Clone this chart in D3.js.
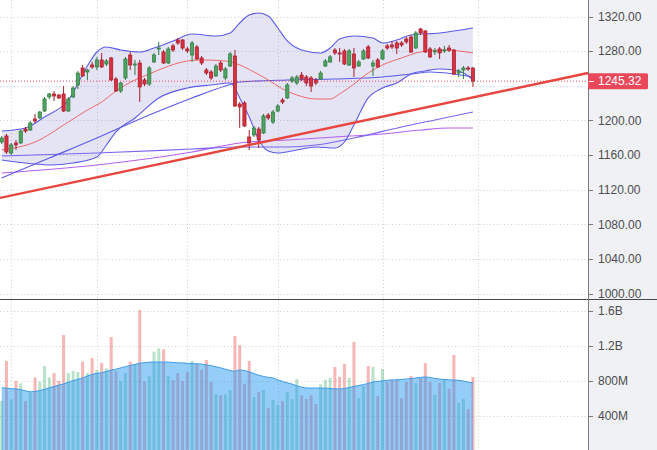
<!DOCTYPE html>
<html><head><meta charset="utf-8">
<script src="https://cdn.jsdelivr.net/npm/d3@7/dist/d3.min.js"></script>
<style>html,body{margin:0;padding:0;background:#fff;}svg{display:block;font-family:"Liberation Sans",Arial,sans-serif;}</style>
</head><body><svg id="chart" width="657" height="450"></svg>
<script>
// ---------- DATA ----------
const openP = [1175.0,1182.0,1162.3,1173.9,1173.9,1190.0,1188.9,1201.6,1202.8,1210.8,
1227.0,1230.5,1229.3,1230.5,1210.8,1227.0,1240.9,1260.5,1255.9,1264.0,
1261.7,1269.8,1265.1,1272.1,1247.8,1233.9,1249.0,1275.5,1264.0,1266.3,
1246.7,1242.0,1267.5,1282.5,1279.0,1266.3,1286.0,1292.9,1292.9,1282.5,
1275.5,1284.8,1272.1,1258.2,1255.9,1251.3,1266.3,1249.0,1262.8,1274.4,
1218.9,1220.1,1180.8,1183.1,1190.0,1185.4,1206.2,1198.1,1210.8,1223.5,
1225.9,1245.5,1243.2,1252.4,1250.1,1249.0,1246.7,1247.8,1262.8,1267.5,
1281.3,1277.9,1280.2,1264.0,1276.7,1262.8,1270.9,1284.8,1262.8,1269.8,
1270.9,1286.0,1287.1,1289.4,1289.4,1294.0,1296.3,1283.6,1305.6,1303.3,
1282.5,1279.0,1282.5,1280.2,1283.6,1281.3,1254.7,1258.2,1260.5,1260.5];
const highP = [1182.0,1184.3,1173.9,1177.3,1188.9,1192.4,1199.3,1207.4,1210.8,1227.0,
1231.7,1233.9,1230.5,1239.7,1227.0,1239.7,1257.1,1264.0,1259.4,1267.5,
1273.3,1277.9,1270.9,1273.3,1250.1,1244.3,1273.3,1279.0,1269.8,1269.8,
1249.0,1262.8,1277.9,1290.6,1281.3,1284.8,1288.3,1295.2,1294.0,1284.8,
1291.7,1287.1,1274.4,1260.5,1258.2,1265.1,1268.6,1261.7,1279.0,1281.3,
1221.2,1222.4,1188.9,1193.5,1192.4,1207.4,1208.5,1212.0,1218.9,1225.9,
1243.2,1251.3,1252.4,1255.9,1252.4,1251.3,1249.0,1257.1,1270.9,1275.5,
1283.6,1283.6,1282.5,1282.5,1283.6,1269.8,1282.5,1287.1,1269.8,1272.1,
1282.5,1288.3,1291.7,1291.7,1291.7,1296.3,1298.7,1303.3,1306.7,1304.4,
1284.8,1283.6,1284.8,1286.0,1287.1,1282.5,1259.4,1262.8,1262.8,1261.7];
const lowP = [1172.7,1161.2,1160.0,1165.8,1172.7,1185.4,1187.7,1197.0,1201.6,1209.7,
1224.7,1222.4,1224.7,1209.7,1209.7,1225.9,1236.3,1250.1,1246.7,1259.4,
1258.2,1260.5,1262.8,1245.5,1232.8,1231.7,1246.7,1258.2,1252.4,1221.2,
1239.7,1239.7,1266.3,1275.5,1265.1,1265.1,1279.0,1287.1,1281.3,1277.9,
1267.5,1269.8,1264.0,1252.4,1246.7,1250.1,1255.9,1246.7,1261.7,1215.5,
1191.2,1192.4,1165.8,1180.8,1168.1,1184.3,1200.5,1195.8,1209.7,1218.9,
1224.7,1243.2,1240.9,1245.5,1239.7,1232.8,1240.9,1246.7,1261.7,1266.3,
1275.5,1267.5,1264.0,1262.8,1250.1,1261.7,1269.8,1270.9,1251.3,1260.5,
1269.8,1281.3,1282.5,1276.7,1284.8,1288.3,1277.9,1282.5,1298.7,1277.9,
1272.1,1275.5,1270.9,1277.9,1279.0,1252.4,1250.1,1247.8,1257.1,1238.6];
const closeP = [1179.6,1163.5,1171.6,1171.6,1187.7,1187.7,1197.0,1199.3,1209.7,1224.7,
1230.5,1228.2,1225.9,1210.8,1224.7,1237.4,1254.7,1251.3,1258.2,1261.7,
1269.8,1261.7,1268.6,1246.7,1233.9,1243.2,1270.9,1264.0,1265.1,1238.6,
1242.0,1260.5,1275.5,1283.6,1266.3,1282.5,1281.3,1289.4,1283.6,1280.2,
1289.4,1270.9,1266.3,1254.7,1249.0,1262.8,1258.2,1259.4,1276.7,1216.6,
1215.5,1193.5,1173.9,1191.2,1177.3,1205.1,1202.8,1209.7,1216.6,1221.2,
1240.9,1249.0,1250.1,1247.8,1243.2,1239.7,1243.2,1254.7,1268.6,1273.3,
1277.9,1276.7,1265.1,1280.2,1260.5,1267.5,1280.2,1272.1,1266.3,1261.7,
1280.2,1283.6,1284.8,1283.6,1287.1,1290.6,1279.0,1301.0,1301.0,1279.0,
1273.3,1280.2,1277.9,1281.3,1281.3,1253.6,1257.1,1260.5,1259.4,1245.32];
// volume in millions
const volume = [571,1029,590,800,773,571,667,842,792,971,
842,891,800,1326,891,914,903,1021,891,1063,
926,1006,945,1303,914,800,891,1021,994,1611,
792,857,1135,1173,1162,857,811,891,800,903,
1029,994,926,1040,789,648,636,648,697,1314,
1211,766,1029,617,674,697,491,583,526,571,
674,594,823,636,594,636,537,762,811,834,
960,846,994,834,1246,606,743,971,960,629,
937,789,811,811,606,789,857,777,834,1006,
789,640,777,823,712,1097,549,594,480,846];
const volumeMA = [723,718,712,709,700,688,676,680,690,705,
722,738,752,768,785,805,820,834,858,875,
888,895,910,925,935,950,965,978,990,1004,
1010,1015,1017,1017,1017,1015,1012,1008,1006,1003,
999,996,993,985,975,963,950,935,920,912,
926,920,905,885,865,852,842,834,815,795,
780,765,745,730,720,720,720,720,718,714,
710,709,715,725,738,748,760,772,789,795,
802,809,812,815,818,822,828,835,842,846,
840,830,823,818,814,811,808,800,788,777];
// indicator readings: [bar index, price]
const bbUpper = [[0,1187.7],[5,1191.2],[9,1203.9],[14,1223.5],[18,1262.8],[20,1279.0],[22,1284.8],[25,1281.3],[29,1279.0],[32,1283.6],[36,1291.7],[40,1299.8],[45,1297.5],[48,1301.0],[50,1312.5],[52,1321.7],[54,1324.1],[56,1320.6],[58,1306.7],[60,1291.7],[63,1281.3],[67,1277.9],[69,1283.6],[71,1294.0],[74,1297.5],[78,1295.2],[80,1289.4],[83,1292.9],[86,1298.7],[92,1301.0],[99,1306.7]];
const bbLower = [[0,1154.2],[7,1149.6],[10,1148.5],[15,1150.8],[20,1157.7],[22,1171.6],[24,1186.6],[28,1202.8],[33,1225.9],[39,1237.4],[44,1240.9],[48,1243.2],[50,1225.9],[52,1203.9],[54,1177.3],[56,1164.6],[58,1162.3],[62,1165.8],[66,1169.3],[70,1168.1],[72,1175.0],[74,1194.7],[77,1225.9],[80,1237.4],[83,1243.2],[86,1253.6],[89,1257.1],[92,1259.4],[95,1258.2],[97,1254.7],[99,1246.7]];
const bbBasis = [[0,1165.8],[7,1175.0],[14,1198.1],[18,1212.0],[21,1221.2],[24,1233.9],[28,1246.7],[31,1253.6],[34,1260.5],[38,1267.5],[42,1269.8],[47,1268.6],[50,1264.0],[53,1255.9],[56,1246.7],[59,1236.3],[62,1229.3],[66,1224.7],[69,1224.7],[71,1230.5],[74,1242.0],[77,1254.7],[80,1264.0],[84,1272.1],[88,1279.0],[93,1281.3],[99,1277.9]];
const ma50 = [[0,1133.4],[10,1156.5],[20,1179.6],[30,1203.9],[40,1225.9],[47,1239.7],[50,1244.3],[60,1246.7],[70,1247.8],[80,1250.1],[86,1253.6],[90,1255.9],[95,1253.6],[99,1250.1]];
const ma100 = [[0,1158.8],[20,1162.3],[40,1166.9],[50,1169.3],[60,1169.3],[66,1171.6],[74,1179.6],[84,1192.4],[92,1201.6],[99,1209.7]];
const ma200 = [[0,1139.2],[20,1148.5],[40,1163.5],[50,1173.9],[60,1177.3],[70,1180.8],[80,1184.3],[88,1188.9],[94,1191.2],[99,1191.2]];
const trendline = [[0,1110.8],[99,1226.5]];
const lastPrice = 1245.32;
const priceTicks = [1000,1040,1080,1120,1160,1200,1240,1280,1320];
const volumeTicks = [400,800,1200,1600];
const volumeTickLabels = ["400M","800M","1.2B","1.6B"];
const gridBars = [2,20,39,58,80,100];

// ---------- LAYOUT ----------
const W = 657, H = 450, plotR = 588, priceBottom = 298.5, volTop = 300;
const svg = d3.select("#chart");
const x = d3.scaleLinear().domain([0, 99]).range([1.7, 472.94]);
const y = d3.scaleLinear().domain([1000, 1320]).range([293.5, 16.5]);
const yv = d3.scaleLinear().domain([0, 1600]).range([451, 311]);

const defs = svg.append("defs");
defs.append("clipPath").attr("id","priceClip").append("rect").attr("x",0).attr("y",0).attr("width",plotR).attr("height",priceBottom);
defs.append("clipPath").attr("id","volClip").append("rect").attr("x",0).attr("y",volTop).attr("width",plotR).attr("height",H-volTop);
defs.append("clipPath").attr("id","aboveLower").append("path")
  .attr("d", d3.area().x(d=>x(d[0])).y0(-10).y1(d=>y(d[1])).curve(d3.curveMonotoneX)(bbLower));

svg.append("rect").attr("x",0).attr("y",0).attr("width",W).attr("height",H).attr("fill","#ffffff");
svg.append("rect").attr("x",plotR).attr("y",0).attr("width",W-plotR).attr("height",H).attr("fill","#f0f1f5");

const grid = svg.append("g").attr("stroke","#cfcfd4").attr("stroke-width",1).attr("stroke-dasharray","1,2.5");
gridBars.forEach(b=>{
  const gx = Math.round(x(b))+0.5;
  grid.append("line").attr("x1",gx).attr("x2",gx).attr("y1",0).attr("y2",priceBottom);
  grid.append("line").attr("x1",gx).attr("x2",gx).attr("y1",volTop).attr("y2",H);
});
priceTicks.forEach(t=>{
  const gy = Math.round(y(t))+0.5;
  grid.append("line").attr("x1",0).attr("x2",plotR).attr("y1",gy).attr("y2",gy);
});
volumeTicks.forEach(t=>{
  const gy = Math.round(yv(t))+0.5;
  grid.append("line").attr("x1",0).attr("x2",plotR).attr("y1",gy).attr("y2",gy);
});

// ---------- PRICE PANE ----------
const pp = svg.append("g").attr("clip-path","url(#priceClip)");
const lineGen = d3.line().x(d=>x(d[0])).y(d=>y(d[1])).curve(d3.curveMonotoneX);
pp.append("path")
  .attr("d", d3.area().x(d=>x(d[0])).y0(priceBottom+20).y1(d=>y(d[1])).curve(d3.curveMonotoneX)(bbUpper))
  .attr("clip-path","url(#aboveLower)")
  .attr("fill","rgba(120,120,200,0.2)");
pp.append("path").attr("d",lineGen(ma200)).attr("fill","none").attr("stroke","#b660ee").attr("stroke-width",1.1);
pp.append("path").attr("d",lineGen(ma100)).attr("fill","none").attr("stroke","#7a66f0").attr("stroke-width",1.1);
pp.append("path").attr("d",lineGen(ma50)).attr("fill","none").attr("stroke","#5a5ae8").attr("stroke-width",1.1);
pp.append("path").attr("d",lineGen(bbBasis)).attr("fill","none").attr("stroke","#ec6a6a").attr("stroke-width",1);
pp.append("path").attr("d",lineGen(bbUpper)).attr("fill","none").attr("stroke","#5c5ce8").attr("stroke-width",1.1);
pp.append("path").attr("d",lineGen(bbLower)).attr("fill","none").attr("stroke","#5c5ce8").attr("stroke-width",1.1);

// last price dotted line
const yLast = y(lastPrice);
pp.append("line").attr("x1",0).attr("x2",plotR).attr("y1",yLast).attr("y2",yLast)
  .attr("stroke","#e8485a").attr("stroke-width",1).attr("stroke-dasharray","1,2");

// candles
const candles = d3.range(openP.length).map(i=>({i,o:openP[i],h:highP[i],l:lowP[i],c:closeP[i]}));
const cg = pp.append("g");
const bw = 3.2;
candles.forEach(d=>{
  const up = d.c >= d.o;
  const fill = up ? "#4ea35f" : "#d9303f";
  const stroke = up ? "#2f7a41" : "#a51d2c";
  const cx = x(d.i);
  cg.append("line").attr("x1",cx).attr("x2",cx).attr("y1",y(d.h)).attr("y2",y(d.l)).attr("stroke",stroke).attr("stroke-width",1);
  const top = y(Math.max(d.o,d.c)), bot = y(Math.min(d.o,d.c));
  cg.append("rect").attr("x",cx-bw/2).attr("y",top).attr("width",bw).attr("height",Math.max(1,bot-top))
    .attr("fill",fill).attr("stroke",stroke).attr("stroke-width",0.7);
});

// trend line extended across the pane
const slope = (trendline[1][1]-trendline[0][1])/(trendline[1][0]-trendline[0][0]);
const iL = x.invert(0), iR = x.invert(plotR);
const tPts = [[iL, trendline[0][1]+slope*(iL-trendline[0][0])],[iR, trendline[0][1]+slope*(iR-trendline[0][0])]];
svg.append("path").attr("d", d3.line().x(d=>x(d[0])).y(d=>y(d[1]))(tPts))
  .attr("fill","none").attr("stroke","#e8453f").attr("stroke-width",2.4);

// ---------- VOLUME PANE ----------
const vp = svg.append("g").attr("clip-path","url(#volClip)");
candles.forEach(d=>{
  const up = d.c >= d.o;
  vp.append("rect").attr("x",x(d.i)-1.5).attr("y",yv(volume[d.i])).attr("width",3).attr("height",yv(0)-yv(volume[d.i]))
    .attr("fill", up ? "rgba(38,166,91,0.32)" : "rgba(239,83,80,0.42)");
});
const maPts = volumeMA.map((v,i)=>[i,v]);
vp.append("path").attr("d", d3.area().x(d=>x(d[0])).y0(yv(0)).y1(d=>yv(d[1])).curve(d3.curveMonotoneX)(maPts))
  .attr("fill","rgba(33,150,243,0.48)");
vp.append("path").attr("d", d3.line().x(d=>x(d[0])).y(d=>yv(d[1])).curve(d3.curveMonotoneX)(maPts))
  .attr("fill","none").attr("stroke","#3d9be6").attr("stroke-width",1);

// ---------- AXES ----------
svg.append("line").attr("x1",0).attr("x2",W).attr("y1",299.5).attr("y2",299.5).attr("stroke","#4a4a4a").attr("stroke-width",1.2);
svg.append("line").attr("x1",plotR+0.5).attr("x2",plotR+0.5).attr("y1",0).attr("y2",H).attr("stroke","#7a7a7a").attr("stroke-width",1);

const ax = svg.append("g").attr("font-size","12px").attr("fill","#4d4d4d");
priceTicks.forEach(t=>{
  const ty = y(t);
  if (Math.abs(ty - yLast) < 12) return;
  if (ty > priceBottom) return;
  ax.append("line").attr("x1",plotR).attr("x2",plotR+5).attr("y1",Math.round(ty)+0.5).attr("y2",Math.round(ty)+0.5).attr("stroke","#7a7a7a");
  ax.append("text").attr("x",plotR+10).attr("y",ty).attr("dy","0.36em").text(d3.format(".2f")(t));
});
volumeTicks.forEach((t,k)=>{
  const ty = yv(t);
  ax.append("line").attr("x1",plotR).attr("x2",plotR+5).attr("y1",Math.round(ty)+0.5).attr("y2",Math.round(ty)+0.5).attr("stroke","#7a7a7a");
  ax.append("text").attr("x",plotR+10).attr("y",ty).attr("dy","0.36em").text(volumeTickLabels[k]);
});
// last price label
svg.append("rect").attr("x",plotR).attr("y",yLast-8).attr("width",60).attr("height",16).attr("rx",1.5).attr("fill","#e8485a");
svg.append("line").attr("x1",plotR+1).attr("x2",plotR+6).attr("y1",Math.round(yLast)+0.5).attr("y2",Math.round(yLast)+0.5).attr("stroke","#fff");
svg.append("text").attr("x",plotR+10).attr("y",yLast).attr("dy","0.36em").attr("font-size","12px").attr("fill","#fff").text(d3.format(".2f")(lastPrice));
</script></body></html>
